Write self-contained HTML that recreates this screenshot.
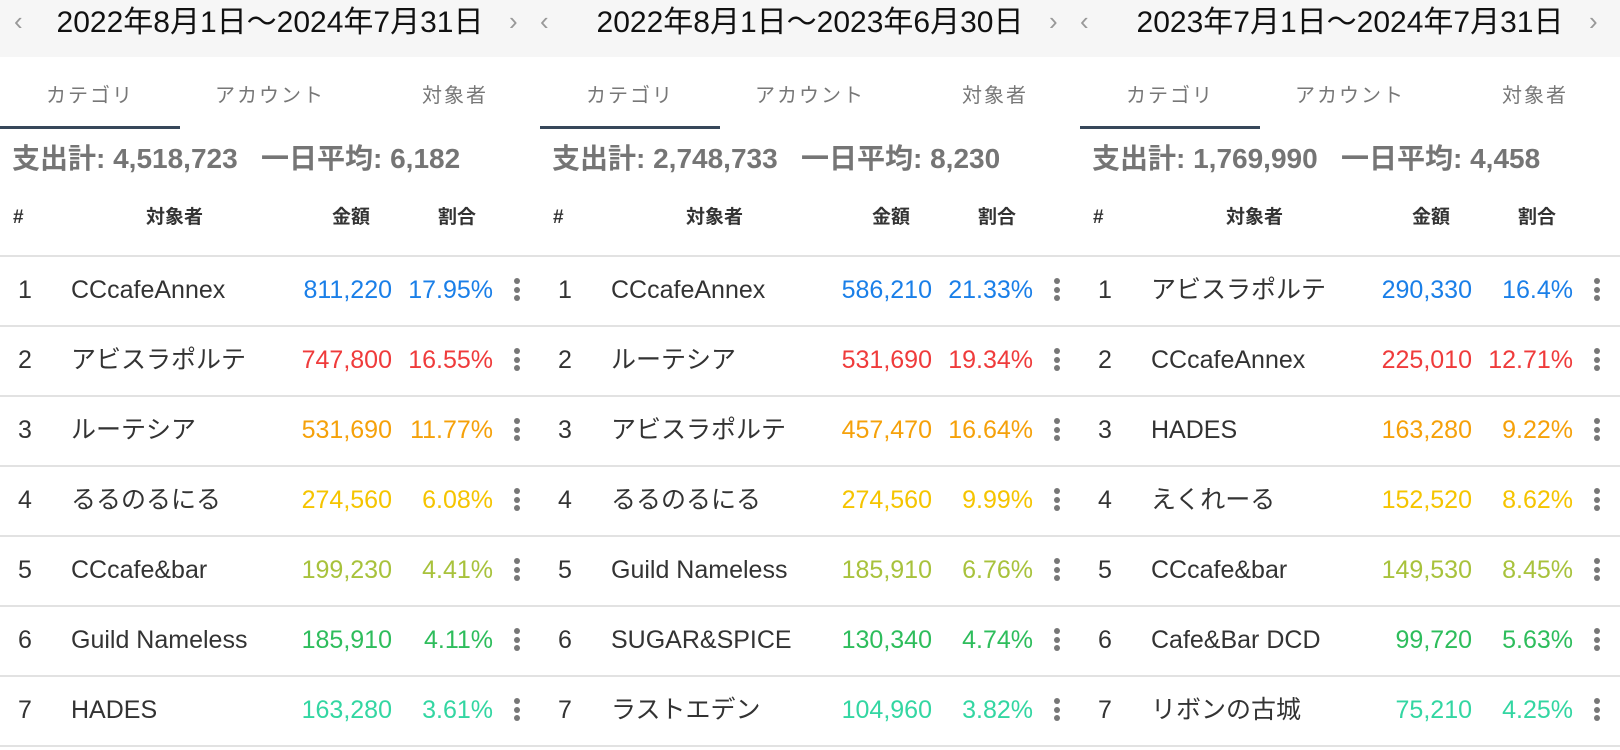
<!DOCTYPE html>
<html><head><meta charset="utf-8">
<style>
*{margin:0;padding:0;box-sizing:border-box}
body{width:1620px;height:750px;background:#fff;font-family:"Liberation Sans","Noto Sans CJK JP",sans-serif;position:relative;overflow:hidden;color:#333}
.hdr{position:absolute;left:0;top:0;width:1620px;height:57px;background:#f6f6f6}
.p{position:absolute;top:0;width:540px;height:750px}
.t{position:absolute;top:5px;left:0;width:540px;text-align:center;font-size:30px;line-height:36px;color:#111}
.ch{position:absolute;top:6px;font-size:26px;color:#999;line-height:30px}
.tab{position:absolute;top:82px;font-size:20px;color:#777;line-height:28px;letter-spacing:2px;text-align:center;width:180px}
.ul{position:absolute;top:126px;left:0;width:180px;height:3px;background:#37475a}
.sum{position:absolute;top:143px;left:12px;font-size:28px;font-weight:bold;color:#757575;line-height:32px;white-space:pre}
.h{position:absolute;top:206px;font-size:19px;font-weight:bold;color:#333;line-height:24px}
.line{position:absolute;left:0;width:540px;height:2px;background:#e2e2e2}
.r{position:absolute;left:0;width:540px;height:70px;font-size:25px;line-height:68px}
.r .n{position:absolute;left:18px}
.r .nm{position:absolute;left:71px;white-space:nowrap}
.r .a{position:absolute;right:148px}
.r .pc{position:absolute;right:47px}
.dots{position:absolute;left:514px;top:22px;width:6px}
.dots i{display:block;width:6px;height:6px;border-radius:3px;background:#777;margin-bottom:2.5px}
</style></head><body>
<div class="hdr"></div>

<div class="p" style="left:0">
<div class="ch" style="left:14px">‹</div><div class="ch" style="left:509px">›</div>
<div class="t">2022年8月1日～2024年7月31日</div>
<div class="tab" style="left:0">カテゴリ</div><div class="tab" style="left:180px">アカウント</div><div class="tab" style="left:365px">対象者</div>
<div class="ul"></div>
<div class="sum">支出計: 4,518,723   一日平均: 6,182</div>
<div class="h" style="left:13px">#</div><div class="h" style="left:146px">対象者</div><div class="h" style="left:332px">金額</div><div class="h" style="left:438px">割合</div>
<div class="line" style="top:255px"></div>
<div class="r" style="top:256px;color:#1a7fe8"><span class="n" style="color:#333">1</span><span class="nm" style="color:#333">CCcafeAnnex</span><span class="a">811,220</span><span class="pc">17.95%</span><div class="dots"><i></i><i></i><i></i></div></div>
<div class="line" style="top:325px"></div>
<div class="r" style="top:326px;color:#ef3b3b"><span class="n" style="color:#333">2</span><span class="nm" style="color:#333">アビスラポルテ</span><span class="a">747,800</span><span class="pc">16.55%</span><div class="dots"><i></i><i></i><i></i></div></div>
<div class="line" style="top:395px"></div>
<div class="r" style="top:396px;color:#f5a10a"><span class="n" style="color:#333">3</span><span class="nm" style="color:#333">ルーテシア</span><span class="a">531,690</span><span class="pc">11.77%</span><div class="dots"><i></i><i></i><i></i></div></div>
<div class="line" style="top:465px"></div>
<div class="r" style="top:466px;color:#f5c400"><span class="n" style="color:#333">4</span><span class="nm" style="color:#333">るるのるにる</span><span class="a">274,560</span><span class="pc">6.08%</span><div class="dots"><i></i><i></i><i></i></div></div>
<div class="line" style="top:535px"></div>
<div class="r" style="top:536px;color:#a8c23c"><span class="n" style="color:#333">5</span><span class="nm" style="color:#333">CCcafe&amp;bar</span><span class="a">199,230</span><span class="pc">4.41%</span><div class="dots"><i></i><i></i><i></i></div></div>
<div class="line" style="top:605px"></div>
<div class="r" style="top:606px;color:#2ebd5c"><span class="n" style="color:#333">6</span><span class="nm" style="color:#333">Guild Nameless</span><span class="a">185,910</span><span class="pc">4.11%</span><div class="dots"><i></i><i></i><i></i></div></div>
<div class="line" style="top:675px"></div>
<div class="r" style="top:676px;color:#33d6a2"><span class="n" style="color:#333">7</span><span class="nm" style="color:#333">HADES</span><span class="a">163,280</span><span class="pc">3.61%</span><div class="dots"><i></i><i></i><i></i></div></div>
<div class="line" style="top:745px"></div>
</div>

<div class="p" style="left:540px">
<div class="ch" style="left:0px">‹</div><div class="ch" style="left:509px">›</div>
<div class="t">2022年8月1日～2023年6月30日</div>
<div class="tab" style="left:0">カテゴリ</div><div class="tab" style="left:180px">アカウント</div><div class="tab" style="left:365px">対象者</div>
<div class="ul"></div>
<div class="sum">支出計: 2,748,733   一日平均: 8,230</div>
<div class="h" style="left:13px">#</div><div class="h" style="left:146px">対象者</div><div class="h" style="left:332px">金額</div><div class="h" style="left:438px">割合</div>
<div class="line" style="top:255px"></div>
<div class="r" style="top:256px;color:#1a7fe8"><span class="n" style="color:#333">1</span><span class="nm" style="color:#333">CCcafeAnnex</span><span class="a">586,210</span><span class="pc">21.33%</span><div class="dots"><i></i><i></i><i></i></div></div>
<div class="line" style="top:325px"></div>
<div class="r" style="top:326px;color:#ef3b3b"><span class="n" style="color:#333">2</span><span class="nm" style="color:#333">ルーテシア</span><span class="a">531,690</span><span class="pc">19.34%</span><div class="dots"><i></i><i></i><i></i></div></div>
<div class="line" style="top:395px"></div>
<div class="r" style="top:396px;color:#f5a10a"><span class="n" style="color:#333">3</span><span class="nm" style="color:#333">アビスラポルテ</span><span class="a">457,470</span><span class="pc">16.64%</span><div class="dots"><i></i><i></i><i></i></div></div>
<div class="line" style="top:465px"></div>
<div class="r" style="top:466px;color:#f5c400"><span class="n" style="color:#333">4</span><span class="nm" style="color:#333">るるのるにる</span><span class="a">274,560</span><span class="pc">9.99%</span><div class="dots"><i></i><i></i><i></i></div></div>
<div class="line" style="top:535px"></div>
<div class="r" style="top:536px;color:#a8c23c"><span class="n" style="color:#333">5</span><span class="nm" style="color:#333">Guild Nameless</span><span class="a">185,910</span><span class="pc">6.76%</span><div class="dots"><i></i><i></i><i></i></div></div>
<div class="line" style="top:605px"></div>
<div class="r" style="top:606px;color:#2ebd5c"><span class="n" style="color:#333">6</span><span class="nm" style="color:#333">SUGAR&amp;SPICE</span><span class="a">130,340</span><span class="pc">4.74%</span><div class="dots"><i></i><i></i><i></i></div></div>
<div class="line" style="top:675px"></div>
<div class="r" style="top:676px;color:#33d6a2"><span class="n" style="color:#333">7</span><span class="nm" style="color:#333">ラストエデン</span><span class="a">104,960</span><span class="pc">3.82%</span><div class="dots"><i></i><i></i><i></i></div></div>
<div class="line" style="top:745px"></div>
</div>

<div class="p" style="left:1080px">
<div class="ch" style="left:0px">‹</div><div class="ch" style="left:509px">›</div>
<div class="t">2023年7月1日～2024年7月31日</div>
<div class="tab" style="left:0">カテゴリ</div><div class="tab" style="left:180px">アカウント</div><div class="tab" style="left:365px">対象者</div>
<div class="ul"></div>
<div class="sum">支出計: 1,769,990   一日平均: 4,458</div>
<div class="h" style="left:13px">#</div><div class="h" style="left:146px">対象者</div><div class="h" style="left:332px">金額</div><div class="h" style="left:438px">割合</div>
<div class="line" style="top:255px"></div>
<div class="r" style="top:256px;color:#1a7fe8"><span class="n" style="color:#333">1</span><span class="nm" style="color:#333">アビスラポルテ</span><span class="a">290,330</span><span class="pc">16.4%</span><div class="dots"><i></i><i></i><i></i></div></div>
<div class="line" style="top:325px"></div>
<div class="r" style="top:326px;color:#ef3b3b"><span class="n" style="color:#333">2</span><span class="nm" style="color:#333">CCcafeAnnex</span><span class="a">225,010</span><span class="pc">12.71%</span><div class="dots"><i></i><i></i><i></i></div></div>
<div class="line" style="top:395px"></div>
<div class="r" style="top:396px;color:#f5a10a"><span class="n" style="color:#333">3</span><span class="nm" style="color:#333">HADES</span><span class="a">163,280</span><span class="pc">9.22%</span><div class="dots"><i></i><i></i><i></i></div></div>
<div class="line" style="top:465px"></div>
<div class="r" style="top:466px;color:#f5c400"><span class="n" style="color:#333">4</span><span class="nm" style="color:#333">えくれーる</span><span class="a">152,520</span><span class="pc">8.62%</span><div class="dots"><i></i><i></i><i></i></div></div>
<div class="line" style="top:535px"></div>
<div class="r" style="top:536px;color:#a8c23c"><span class="n" style="color:#333">5</span><span class="nm" style="color:#333">CCcafe&amp;bar</span><span class="a">149,530</span><span class="pc">8.45%</span><div class="dots"><i></i><i></i><i></i></div></div>
<div class="line" style="top:605px"></div>
<div class="r" style="top:606px;color:#2ebd5c"><span class="n" style="color:#333">6</span><span class="nm" style="color:#333">Cafe&amp;Bar DCD</span><span class="a">99,720</span><span class="pc">5.63%</span><div class="dots"><i></i><i></i><i></i></div></div>
<div class="line" style="top:675px"></div>
<div class="r" style="top:676px;color:#33d6a2"><span class="n" style="color:#333">7</span><span class="nm" style="color:#333">リボンの古城</span><span class="a">75,210</span><span class="pc">4.25%</span><div class="dots"><i></i><i></i><i></i></div></div>
<div class="line" style="top:745px"></div>
</div>
</body></html>
